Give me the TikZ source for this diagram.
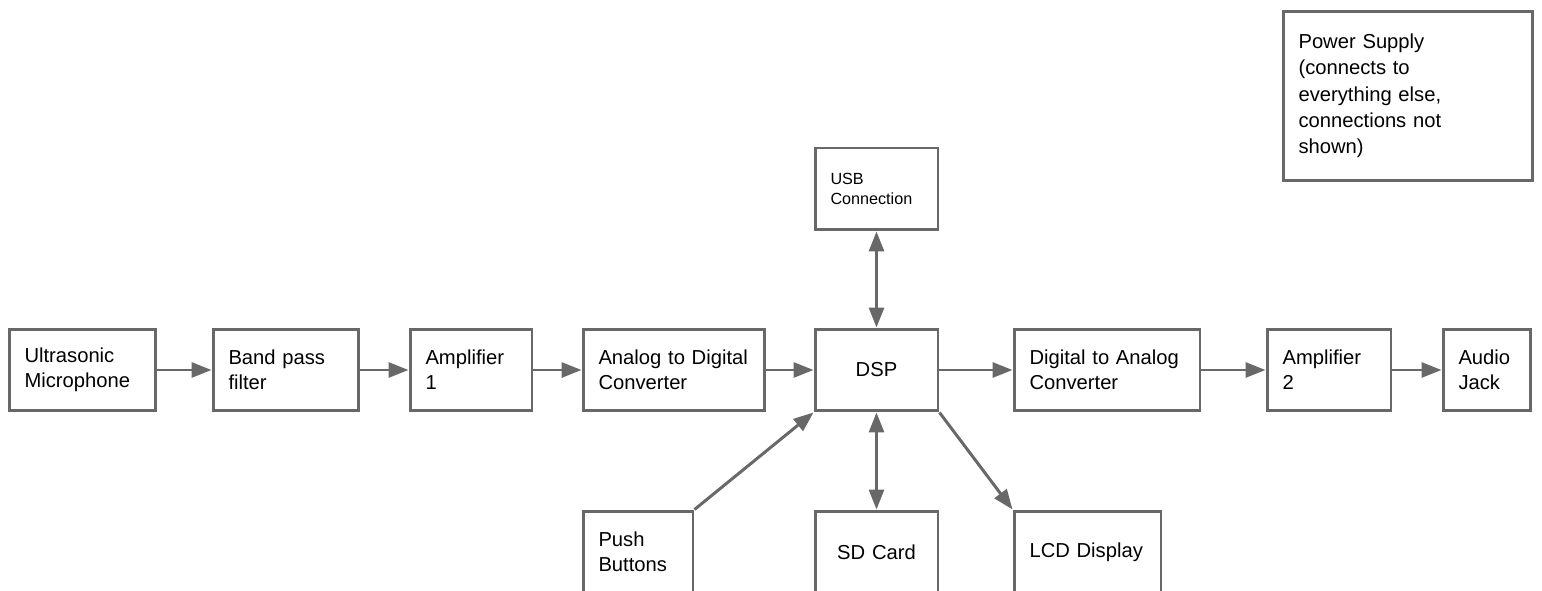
\documentclass[tikz,border=0pt]{standalone}
\usepackage{fontspec}
\setmainfont{Liberation Sans}
\usetikzlibrary{arrows.meta}
\definecolor{linegray}{RGB}{104,104,104}
\begin{document}
\begin{tikzpicture}[x=0.02cm,y=-0.02cm,
    >={Triangle[length=0.4cm,width=0.3cm]},
    box/.style={draw=linegray,line width=1.7pt,text=black,inner xsep=0.31cm,inner ysep=0pt,
      align=left,minimum height=1.64cm,font=\fontsize{11.5}{14.2}\selectfont},
    link/.style={draw=linegray,line width=1.7pt,->},
    both/.style={draw=linegray,line width=1.7pt,<->}]
    \useasboundingbox (0,0) rectangle (1542,591);
    % signal chain
    \node[box,minimum width=2.94cm,text width=2.32cm] (mic) at (82.5,370) {Ultrasonic\\Microphone};
    \node[box,minimum width=2.92cm,text width=2.30cm] (bpf) at (286,370) {Band pass\\filter};
    \node[box,minimum width=2.44cm,text width=1.82cm] (ampA) at (471,370) {Amplifier\\1};
    \node[box,minimum width=3.64cm,text width=3.02cm] (adc) at (674,370) {Analog to Digital\\Converter};
    \node[box,minimum width=2.46cm,text width=1.84cm,align=center] (dsp) at (876.5,370) {DSP};
    \node[box,minimum width=3.72cm,text width=3.10cm] (dac) at (1107,370) {Digital to Analog\\Converter};
    \node[box,minimum width=2.48cm,text width=1.86cm] (ampB) at (1329,370) {Amplifier\\2};
    \node[box,minimum width=1.74cm,text width=1.12cm] (jack) at (1486.5,370) {Audio\\Jack};
    % around the DSP
    \node[box,minimum width=2.46cm,text width=1.84cm,font=\fontsize{9.2}{11.4}\selectfont] (usb) at (876.5,189) {USB\\Connection};
    \node[box,minimum width=2.2cm,text width=1.58cm] (push) at (638,552) {Push\\Buttons};
    \node[box,minimum width=2.46cm,text width=1.84cm,align=center] (sd) at (876.5,552) {SD Card};
    \node[box,minimum width=2.94cm,text width=2.32cm] (lcd) at (1087.5,552) {LCD Display};
    \node[box,minimum width=5.0cm,text width=4.38cm,minimum height=3.4cm,font=\fontsize{11.5}{15}\selectfont] (power) at (1408,96)
      {Power Supply\\(connects to\\everything else,\\connections not\\shown)};
    % connectors
    \draw[link] (mic) -- (bpf);
    \draw[link] (bpf) -- (ampA);
    \draw[link] (ampA) -- (adc);
    \draw[link] (adc) -- (dsp);
    \draw[link] (dsp) -- (dac);
    \draw[link] (dac) -- (ampB);
    \draw[link] (ampB) -- (jack);
    \draw[both] (usb) -- (dsp);
    \draw[both] (dsp) -- (sd);
    \draw[link] (push.north east) -- (dsp.south west);
    \draw[link] (dsp.south east) -- (lcd.north west);
\end{tikzpicture}
\end{document}
